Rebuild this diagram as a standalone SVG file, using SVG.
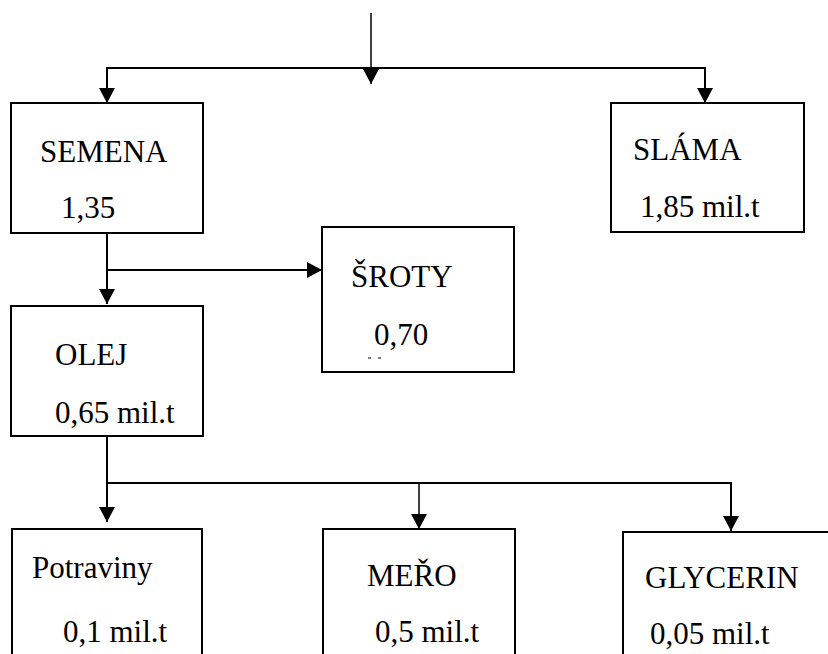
<svg xmlns="http://www.w3.org/2000/svg" width="828" height="654" viewBox="0 0 828 654">
  <defs>
    <marker id="arrow" markerUnits="userSpaceOnUse" markerWidth="16" markerHeight="16" refX="15" refY="8" orient="auto">
      <path d="M0,0 L15,8 L0,16 z" fill="#000"/>
    </marker>
    <style>
      .box { fill: #fff; stroke: #000; stroke-width: 2; }
      .lbl { font-family: "Liberation Serif", "Times New Roman", Times, "Nimbus Roman", "Nimbus Roman No9 L", FreeSerif, "Noto Serif", "DejaVu Serif", serif; font-size: 31px; fill: #000; }
      .conn line { stroke: #000; stroke-width: 2; fill: none; }
      .conn .thin { stroke-width: 1.5; }
    </style>
  </defs>
  <rect width="828" height="654" fill="#fff"/>

  <!-- connectors -->
  <g id="connectors" class="conn">
    <line class="thin" x1="371" y1="13" x2="371" y2="84" marker-end="url(#arrow)"/>
    <line x1="107" y1="68" x2="705" y2="68"/>
    <line x1="107" y1="67" x2="107" y2="103" marker-end="url(#arrow)"/>
    <line x1="705" y1="67" x2="705" y2="103" marker-end="url(#arrow)"/>
    <line x1="107" y1="228" x2="107" y2="304" marker-end="url(#arrow)"/>
    <line x1="107" y1="270" x2="322" y2="270" marker-end="url(#arrow)"/>
    <line x1="107" y1="434" x2="107" y2="522" marker-end="url(#arrow)"/>
    <line x1="107" y1="483" x2="732" y2="483"/>
    <line class="thin" x1="419" y1="483" x2="419" y2="529" marker-end="url(#arrow)"/>
    <line x1="731" y1="482" x2="731" y2="531" marker-end="url(#arrow)"/>
  </g>

  <g id="semena">
    <rect class="box" x="11" y="103" width="192" height="130"/>
    <text class="lbl" x="40" y="162">SEMENA</text>
    <text class="lbl" x="61" y="218">1,35</text>
  </g>

  <g id="slama">
    <rect class="box" x="611" y="103" width="193" height="129"/>
    <text class="lbl" x="633" y="160">SLÁMA</text>
    <text class="lbl" x="640" y="217">1,85 mil.t</text>
  </g>

  <g id="sroty">
    <rect class="box" x="322" y="227" width="192" height="145"/>
    <text class="lbl" x="351" y="287">ŠROTY</text>
    <text class="lbl" x="374" y="345">0,70</text>
    <line x1="368" y1="358" x2="371" y2="358" stroke="#000" stroke-width="1"/>
    <line x1="378" y1="358" x2="381" y2="358" stroke="#000" stroke-width="1"/>
  </g>

  <g id="olej">
    <rect class="box" x="11" y="306" width="192" height="130"/>
    <text class="lbl" x="55" y="365">OLEJ</text>
    <text class="lbl" x="55" y="423">0,65 mil.t</text>
  </g>

  <g id="potraviny">
    <rect class="box" x="12" y="529" width="190" height="140"/>
    <text class="lbl" x="32" y="578">Potraviny</text>
    <text class="lbl" x="63" y="642">0,1 mil.t</text>
  </g>

  <g id="mero">
    <rect class="box" x="323" y="529" width="192" height="140"/>
    <text class="lbl" x="367" y="586">MEŘO</text>
    <text class="lbl" x="375" y="642">0,5 mil.t</text>
  </g>

  <g id="glycerin">
    <rect class="box" x="623" y="532" width="220" height="140"/>
    <text class="lbl" x="645" y="588">GLYCERIN</text>
    <text class="lbl" x="650" y="644">0,05 mil.t</text>
  </g>
</svg>
